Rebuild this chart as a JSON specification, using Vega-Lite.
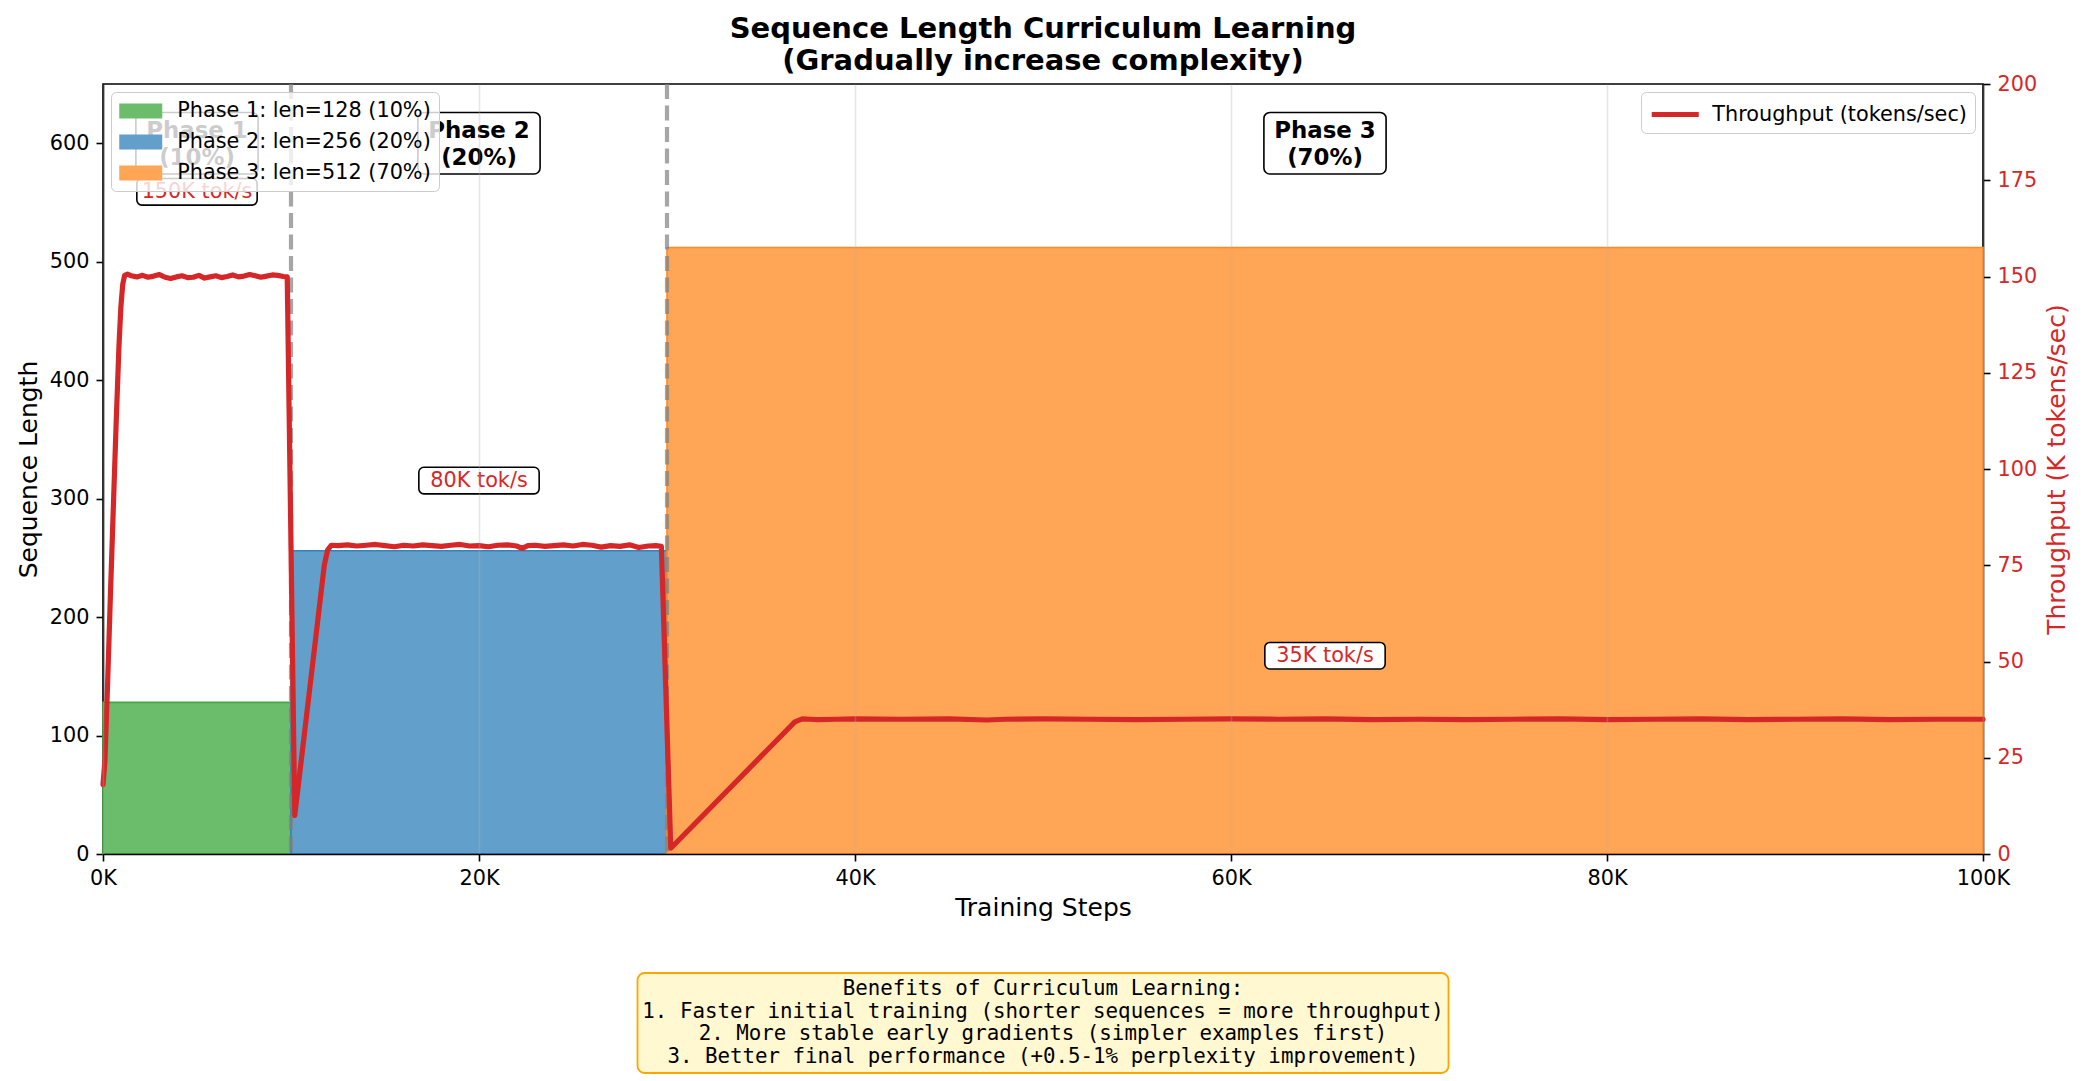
{
  "$schema": "https://vega.github.io/schema/vega-lite/v6.json",
  "background": "white",
  "padding": {"left": 15, "top": 15, "right": 12, "bottom": 8},
  "title": {
    "text": ["Sequence Length Curriculum Learning", "(Gradually increase complexity)"],
    "anchor": "middle", "fontSize": 29, "fontWeight": "bold", "font": "DejaVu Sans",
    "lineHeight": 32, "offset": -4, "color": "black"
  },
  "datasets": {
    "phases": [
      {"phase": "Phase 1: len=128 (10%)", "start": 0, "end": 10000, "len": 128},
      {"phase": "Phase 2: len=256 (20%)", "start": 10000, "end": 30000, "len": 256},
      {"phase": "Phase 3: len=512 (70%)", "start": 30000, "end": 100000, "len": 512}
    ],
    "bounds": [{"step": 10000}, {"step": 30000}],
    "phaseLabels": [
      {"label": "Phase 1\n(10%)", "step": 5000, "level": 600},
      {"label": "Phase 2\n(20%)", "step": 20000, "level": 600},
      {"label": "Phase 3\n(70%)", "step": 65000, "level": 600}
    ],
    "tputLabels": [
      {"label": "150K tok/s", "step": 5000, "level": 172},
      {"label": "80K tok/s", "step": 20000, "level": 97},
      {"label": "35K tok/s", "step": 65000, "level": 51.5}
    ],
    "tput": [
      {"step": 0, "v": 18}, {"step": 100, "v": 24}, {"step": 250, "v": 45}, {"step": 400, "v": 68},
      {"step": 550, "v": 90}, {"step": 700, "v": 112}, {"step": 850, "v": 132}, {"step": 950, "v": 142},
      {"step": 1050, "v": 148}, {"step": 1150, "v": 150.3}, {"step": 1300, "v": 150.6}, {"step": 1500, "v": 150.2},
      {"step": 1800, "v": 149.9}, {"step": 2100, "v": 150.3}, {"step": 2400, "v": 149.8}, {"step": 2700, "v": 150.1},
      {"step": 3000, "v": 150.5}, {"step": 3300, "v": 149.8}, {"step": 3600, "v": 149.5}, {"step": 3900, "v": 149.9},
      {"step": 4200, "v": 150.2}, {"step": 4500, "v": 149.7}, {"step": 4800, "v": 149.8}, {"step": 5100, "v": 150.3},
      {"step": 5400, "v": 149.6}, {"step": 5700, "v": 149.9}, {"step": 6000, "v": 150.2}, {"step": 6300, "v": 149.7},
      {"step": 6600, "v": 150.0}, {"step": 6900, "v": 150.4}, {"step": 7200, "v": 149.9}, {"step": 7500, "v": 150.1},
      {"step": 7800, "v": 150.5}, {"step": 8100, "v": 150.2}, {"step": 8400, "v": 149.8}, {"step": 8700, "v": 150.1},
      {"step": 9000, "v": 150.4}, {"step": 9300, "v": 150.3}, {"step": 9600, "v": 150.0}, {"step": 9800, "v": 149.9},
      {"step": 10200, "v": 10}, {"step": 11770, "v": 75}, {"step": 11950, "v": 79}, {"step": 12150, "v": 80.2},
      {"step": 12500, "v": 80.1}, {"step": 13000, "v": 80.3}, {"step": 13500, "v": 80.0}, {"step": 14000, "v": 80.2},
      {"step": 14500, "v": 80.4}, {"step": 15000, "v": 80.1}, {"step": 15500, "v": 79.8}, {"step": 16000, "v": 80.2},
      {"step": 16500, "v": 80.0}, {"step": 17000, "v": 80.3}, {"step": 17500, "v": 80.1}, {"step": 18000, "v": 79.9},
      {"step": 18500, "v": 80.2}, {"step": 19000, "v": 80.4}, {"step": 19500, "v": 80.0}, {"step": 20000, "v": 80.1},
      {"step": 20500, "v": 79.8}, {"step": 21000, "v": 80.2}, {"step": 21500, "v": 80.3}, {"step": 22000, "v": 80.0},
      {"step": 22300, "v": 79.4}, {"step": 22600, "v": 80.1}, {"step": 23000, "v": 80.2}, {"step": 23500, "v": 79.9},
      {"step": 24000, "v": 80.1}, {"step": 24500, "v": 80.3}, {"step": 25000, "v": 80.0}, {"step": 25500, "v": 80.4},
      {"step": 26000, "v": 80.2}, {"step": 26500, "v": 79.7}, {"step": 27000, "v": 80.1}, {"step": 27500, "v": 79.9},
      {"step": 28000, "v": 80.3}, {"step": 28500, "v": 79.6}, {"step": 29000, "v": 80.0}, {"step": 29400, "v": 80.1},
      {"step": 29700, "v": 79.9}, {"step": 30200, "v": 1.5}, {"step": 36800, "v": 34.3}, {"step": 37200, "v": 35.1},
      {"step": 37600, "v": 35.0}, {"step": 38000, "v": 34.9}, {"step": 39000, "v": 35.0}, {"step": 40000, "v": 35.1},
      {"step": 42500, "v": 35.0}, {"step": 45000, "v": 35.1}, {"step": 47000, "v": 34.8}, {"step": 48000, "v": 35.0},
      {"step": 50000, "v": 35.1}, {"step": 52500, "v": 35.0}, {"step": 55000, "v": 34.9}, {"step": 57500, "v": 35.0},
      {"step": 60000, "v": 35.1}, {"step": 62500, "v": 35.0}, {"step": 65000, "v": 35.1}, {"step": 67500, "v": 34.9},
      {"step": 70000, "v": 35.0}, {"step": 72500, "v": 34.9}, {"step": 75000, "v": 35.0}, {"step": 77500, "v": 35.1},
      {"step": 80000, "v": 34.9}, {"step": 82500, "v": 35.0}, {"step": 85000, "v": 35.1}, {"step": 87500, "v": 34.9},
      {"step": 90000, "v": 35.0}, {"step": 92500, "v": 35.1}, {"step": 95000, "v": 34.9}, {"step": 97500, "v": 35.0},
      {"step": 100000, "v": 35.0}
    ],
    "benefits": [
      {"order": 1, "text": "Benefits of Curriculum Learning:"},
      {"order": 2, "text": "1. Faster initial training (shorter sequences = more throughput)"},
      {"order": 3, "text": "2. More stable early gradients (simpler examples first)"},
      {"order": 4, "text": "3. Better final performance (+0.5-1% perplexity improvement)"}
    ]
  },
  "vconcat": [
    {
      "width": 1880,
      "height": 770,
      "resolve": {"scale": {"y": "independent", "stroke": "independent"}, "legend": {"stroke": "independent"}},
      "layer": [
        {
          "layer": [
            {
              "data": {"name": "phases"},
              "mark": {"type": "rect", "strokeWidth": 1.6},
              "encoding": {
                "x": {"field": "start", "type": "quantitative", "title": "Training Steps",
                      "scale": {"domain": [0, 100000], "nice": false},
                      "axis": {"values": [0, 20000, 40000, 60000, 80000, 100000], "labelExpr": "datum.value/1000 + 'K'", "zindex": 1}},
                "x2": {"field": "end"},
                "y": {"field": "len", "type": "quantitative", "title": "Sequence Length",
                      "scale": {"domain": [0, 650], "nice": false},
                      "axis": {"values": [0, 100, 200, 300, 400, 500, 600], "orient": "left"}},
                "y2": {"datum": 0},
                "fill": {"field": "phase", "type": "nominal",
                         "scale": {"domain": ["Phase 1: len=128 (10%)", "Phase 2: len=256 (20%)", "Phase 3: len=512 (70%)"], "range": ["#6bbd6b", "#62a0cb", "#ffa556"]},
                         "legend": {"title": null, "orient": "top-left", "offset": 8, "symbolType": "M-2,-0.7H2V0.7H-2Z", "symbolSize": 462,
                                    "symbolOffset": 10.75, "symbolStrokeWidth": 0, "labelFontSize": 20.8, "labelFont": "DejaVu Sans", "labelColor": "black",
                                    "labelOffset": 25.5, "rowPadding": 10, "padding": 8, "fillColor": "rgba(255,255,255,0.8)",
                                    "strokeColor": "#cccccc", "cornerRadius": 5, "labelLimit": 400}},
                "stroke": {"field": "phase", "type": "nominal",
                           "scale": {"domain": ["Phase 1: len=128 (10%)", "Phase 2: len=256 (20%)", "Phase 3: len=512 (70%)"], "range": ["#3fa93f", "#3383bb", "#ff8a24"]},
                           "legend": null}
              }
            },
            {
              "data": {"name": "bounds"},
              "mark": {"type": "rule", "color": "gray", "opacity": 0.7, "strokeWidth": 4.2, "strokeDash": [15, 6.5]},
              "encoding": {
                "x": {"field": "step", "type": "quantitative", "title": "Training Steps"}
              }
            },
            {
              "data": {"name": "phaseLabels"},
              "transform": [
                {"calculate": "datum.step - 3250", "as": "x_lo"},
                {"calculate": "datum.step + 3250", "as": "x_hi"},
                {"calculate": "datum.level - 26", "as": "y_lo"},
                {"calculate": "datum.level + 26", "as": "y_hi"}
              ],
              "mark": {"type": "rect", "fill": "white", "stroke": "black", "strokeWidth": 1.6, "cornerRadius": 6},
              "encoding": {
                "x": {"field": "x_lo", "type": "quantitative", "title": "Training Steps"},
                "x2": {"field": "x_hi"},
                "y": {"field": "y_lo", "type": "quantitative", "title": "Sequence Length"},
                "y2": {"field": "y_hi"}
              }
            },
            {
              "data": {"name": "phaseLabels"},
              "mark": {"type": "text", "font": "DejaVu Sans", "fontWeight": "bold", "fontSize": 22.9, "lineHeight": 27,
                       "lineBreak": "\n", "align": "center", "baseline": "middle", "dy": -12, "color": "black"},
              "encoding": {
                "x": {"field": "step", "type": "quantitative", "title": "Training Steps"},
                "y": {"field": "level", "type": "quantitative", "title": "Sequence Length"},
                "text": {"field": "label"}
              }
            }
          ]
        },
        {
          "layer": [
            {
              "data": {"name": "tput"},
              "mark": {"type": "line", "strokeWidth": 5.2, "strokeJoin": "round", "strokeCap": "round"},
              "encoding": {
                "x": {"field": "step", "type": "quantitative", "title": "Training Steps"},
                "y": {"field": "v", "type": "quantitative", "title": "Throughput (K tokens/sec)",
                      "scale": {"domain": [0, 200], "nice": false},
                      "axis": {"orient": "right", "values": [0, 25, 50, 75, 100, 125, 150, 175, 200], "labelColor": "#d62728", "titleColor": "#d62728", "titleAngle": -90, "titleBaseline": "top"}},
                "stroke": {"datum": "Throughput (tokens/sec)", "type": "nominal",
                           "scale": {"range": ["#d62728"]},
                           "legend": {"title": null, "orient": "top-right", "offset": 8, "symbolType": "M-2,0H2", "symbolSize": 552,
                                      "symbolOffset": 11.75, "symbolStrokeWidth": 5.2, "labelFontSize": 20.8, "labelFont": "DejaVu Sans", "labelColor": "black",
                                      "labelOffset": 22.5, "padding": 8, "fillColor": "rgba(255,255,255,0.8)",
                                      "strokeColor": "#cccccc", "cornerRadius": 5, "labelLimit": 400}}
              }
            },
            {
              "data": {"name": "tputLabels"},
              "transform": [
                {"calculate": "datum.step - 3200", "as": "x_lo"},
                {"calculate": "datum.step + 3200", "as": "x_hi"},
                {"calculate": "datum.level - 3.45", "as": "y_lo"},
                {"calculate": "datum.level + 3.45", "as": "y_hi"}
              ],
              "mark": {"type": "rect", "fill": "white", "stroke": "black", "strokeWidth": 1.6, "cornerRadius": 5},
              "encoding": {
                "x": {"field": "x_lo", "type": "quantitative", "title": "Training Steps"},
                "x2": {"field": "x_hi"},
                "y": {"field": "y_lo", "type": "quantitative", "title": "Throughput (K tokens/sec)",
                      "axis": {"orient": "right", "values": [0, 25, 50, 75, 100, 125, 150, 175, 200], "labelColor": "#d62728", "titleColor": "#d62728", "titleAngle": -90, "titleBaseline": "top"}},
                "y2": {"field": "y_hi"}
              }
            },
            {
              "data": {"name": "tputLabels"},
              "mark": {"type": "text", "font": "DejaVu Sans", "fontSize": 20.8, "align": "center", "baseline": "middle", "color": "#d62728"},
              "encoding": {
                "x": {"field": "step", "type": "quantitative", "title": "Training Steps"},
                "y": {"field": "level", "type": "quantitative", "title": "Throughput (K tokens/sec)",
                      "axis": {"orient": "right", "values": [0, 25, 50, 75, 100, 125, 150, 175, 200], "labelColor": "#d62728", "titleColor": "#d62728", "titleAngle": -90, "titleBaseline": "top"}},
                "text": {"field": "label"}
              }
            }
          ]
        }
      ]
    },
    {
      "width": 811,
      "height": 100,
      "view": {"fill": "#fff8d0", "stroke": "#ffa500", "strokeWidth": 1.8, "cornerRadius": 7},
      "data": {"name": "benefits"},
      "mark": {"type": "text", "font": "DejaVu Sans Mono", "fontSize": 20.8, "align": "center", "baseline": "middle", "color": "black"},
      "encoding": {
        "y": {"field": "order", "type": "ordinal", "axis": null, "scale": {"type": "point", "padding": 0.71}},
        "text": {"field": "text"}
      }
    }
  ],
  "spacing": 119,
  "bounds": "flush",
  "center": true,
  "config": {
    "font": "DejaVu Sans",
    "view": {"stroke": "black", "strokeWidth": 1.6},
    "axis": {
      "labelFont": "DejaVu Sans", "labelFontSize": 20.8, "labelColor": "black",
      "titleFont": "DejaVu Sans", "titleFontSize": 25, "titleFontWeight": "normal", "titleColor": "black",
      "tickColor": "black", "tickSize": 7, "tickWidth": 1.6, "domainColor": "black", "domainWidth": 1.6,
      "labelPadding": 7, "titlePadding": 8, "grid": false, "labelFlush": false, "labelOverlap": false
    },
    "axisX": {"grid": true, "gridColor": "#b0b0b0", "gridOpacity": 0.3, "gridWidth": 1.6}
  }
}
